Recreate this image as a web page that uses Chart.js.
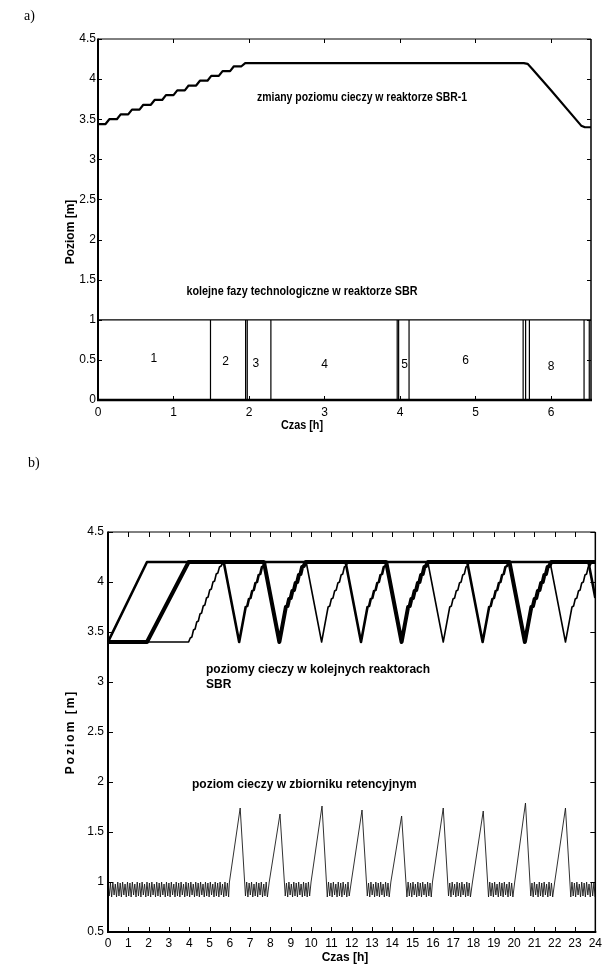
<!DOCTYPE html>
<html><head><meta charset="utf-8">
<script src="https://cdn.jsdelivr.net/npm/chart.js@4.4.1/dist/chart.umd.min.js"></script>
<style>
html,body{margin:0;padding:0;background:#fff;}
#wrap{position:relative;width:606px;height:967px;overflow:hidden;background:#fff;}
#ca{position:absolute;left:0;top:0;}
#cb{position:absolute;left:0;top:450px;}
</style></head>
<body><div id="wrap"><canvas id="ca" width="606" height="450"></canvas><canvas id="cb" width="606" height="517"></canvas></div>
<script>
// ===== DATA: chart a) =====
const timeA  = [0,0.1,0.15,0.25,0.3,0.4,0.45,0.55,0.6,0.7,0.75,0.85,0.9,1.0,1.05,1.15,1.2,1.3,1.35,1.45,1.5,1.6,1.65,1.75,1.8,1.9,1.95,5.64,5.69,5.75,6.0,6.4,6.45,6.53];
const levelA = [3.44,3.44,3.5,3.5,3.56,3.56,3.62,3.62,3.68,3.68,3.74,3.74,3.8,3.8,3.86,3.86,3.92,3.92,3.98,3.98,4.04,4.04,4.1,4.1,4.16,4.16,4.2,4.2,4.19,4.13,3.86,3.42,3.4,3.4];
const phaseBounds = [0,1.49,1.955,1.977,2.29,3.963,3.982,4.12,5.631,5.664,5.714,6.438,6.507];
const phaseNames  = ['1','2','3','4','5','6','8'];
const phaseNameX  = [0.74,1.69,2.09,3.0,4.06,4.87,6.0];
const phaseNameY  = [0.51,0.48,0.45,0.44,0.44,0.49,0.42];
const xTicksA = ['0','1','2','3','4','5','6'];
const yTicksA = ['0','0.5','1','1.5','2','2.5','3','3.5','4','4.5'];

// ===== DATA: chart b) =====
const reactor1 = [[0,3.4],[1.92,4.2],[5.7,4.2],[6.46,3.4],[6.78,3.75],[6.86,3.76],[6.94,3.83],[7.02,3.84],[7.1,3.91],[7.18,3.92],[7.26,3.99],[7.34,4.0],[7.42,4.07],[7.5,4.08],[7.58,4.15],[7.66,4.16],[7.76,4.2],
  [11.7,4.2],[12.46,3.4],[12.78,3.75],[12.86,3.76],[12.94,3.83],[13.02,3.84],[13.1,3.91],[13.18,3.92],[13.26,3.99],[13.34,4.0],[13.42,4.07],[13.5,4.08],[13.58,4.15],[13.66,4.16],[13.76,4.2],
  [17.69,4.2],[18.45,3.4],[18.77,3.75],[18.85,3.76],[18.93,3.83],[19.01,3.84],[19.09,3.91],[19.17,3.92],[19.25,3.99],[19.33,4.0],[19.41,4.07],[19.49,4.08],[19.57,4.15],[19.65,4.16],[19.75,4.2],
  [23.66,4.2],[24,3.84]];
const reactor2 = [[0,3.4],[1.92,3.4],[3.97,4.2],[7.68,4.2],[8.44,3.4],[8.76,3.75],[8.84,3.76],[8.92,3.83],[9.0,3.84],[9.08,3.91],[9.16,3.92],[9.24,3.99],[9.32,4.0],[9.4,4.07],[9.48,4.08],[9.56,4.15],[9.64,4.16],[9.74,4.2],
  [13.7,4.2],[14.46,3.4],[14.78,3.75],[14.86,3.76],[14.94,3.83],[15.02,3.84],[15.1,3.91],[15.18,3.92],[15.26,3.99],[15.34,4.0],[15.42,4.07],[15.5,4.08],[15.58,4.15],[15.66,4.16],[15.76,4.2],
  [19.77,4.2],[20.53,3.4],[20.85,3.75],[20.93,3.76],[21.01,3.83],[21.09,3.84],[21.17,3.91],[21.25,3.92],[21.33,3.99],[21.41,4.0],[21.49,4.07],[21.57,4.08],[21.65,4.15],[21.73,4.16],[21.83,4.2],[24,4.2]];
const reactor3 = [[0,3.4],[3.97,3.4],[4.05,3.44],[4.13,3.45],[4.21,3.52],[4.29,3.53],[4.37,3.6],[4.45,3.61],[4.53,3.68],[4.61,3.69],[4.69,3.76],[4.77,3.77],[4.85,3.84],[4.93,3.85],[5.01,3.92],[5.09,3.93],[5.17,4.0],[5.25,4.01],[5.33,4.08],[5.41,4.09],[5.49,4.15],[5.57,4.16],[5.65,4.19],[5.78,4.2],
  [9.76,4.2],[10.52,3.4],[10.84,3.75],[10.92,3.76],[11.0,3.83],[11.08,3.84],[11.16,3.91],[11.24,3.92],[11.32,3.99],[11.4,4.0],[11.48,4.07],[11.56,4.08],[11.64,4.15],[11.72,4.16],[11.82,4.2],
  [15.75,4.2],[16.51,3.4],[16.83,3.75],[16.91,3.76],[16.99,3.83],[17.07,3.84],[17.15,3.91],[17.23,3.92],[17.31,3.99],[17.39,4.0],[17.47,4.07],[17.55,4.08],[17.63,4.15],[17.71,4.16],[17.81,4.2],
  [21.77,4.2],[22.53,3.4],[22.85,3.75],[22.93,3.76],[23.01,3.83],[23.09,3.84],[23.17,3.91],[23.25,3.92],[23.33,3.99],[23.41,4.0],[23.49,4.07],[23.57,4.08],[23.65,4.15],[23.73,4.16],[23.83,4.2],[24,4.2]];
const tank = [
  [0,1.0],[0.06,0.86],[0.12,0.99],[0.18,0.85],[0.24,1.0],[0.3,0.87],[0.36,0.98],[0.42,0.85],[0.48,1.0],[0.54,0.86],
  [0.6,0.99],[0.66,0.85],[0.72,1.0],[0.78,0.87],[0.84,0.98],[0.9,0.85],[0.96,1.0],[1.02,0.86],[1.08,0.99],[1.14,0.85],
  [1.2,1.0],[1.26,0.87],[1.32,0.98],[1.38,0.85],[1.44,1.0],[1.5,0.86],[1.56,0.99],[1.62,0.85],[1.68,1.0],[1.74,0.87],
  [1.8,0.98],[1.86,0.85],[1.92,1.0],[1.98,0.86],[2.04,0.99],[2.1,0.85],[2.16,1.0],[2.22,0.87],[2.28,0.98],[2.34,0.85],
  [2.4,1.0],[2.46,0.86],[2.52,0.99],[2.58,0.85],[2.64,1.0],[2.7,0.87],[2.76,0.98],[2.82,0.85],[2.88,1.0],[2.94,0.86],
  [3.0,0.99],[3.06,0.85],[3.12,1.0],[3.18,0.87],[3.24,0.98],[3.3,0.85],[3.36,1.0],[3.42,0.86],[3.48,0.99],[3.54,0.85],
  [3.6,1.0],[3.66,0.87],[3.72,0.98],[3.78,0.85],[3.84,1.0],[3.9,0.86],[3.96,0.99],[4.02,0.85],[4.08,1.0],[4.14,0.87],
  [4.2,0.98],[4.26,0.85],[4.32,1.0],[4.38,0.86],[4.44,0.99],[4.5,0.85],[4.56,1.0],[4.62,0.87],[4.68,0.98],[4.74,0.85],
  [4.8,1.0],[4.86,0.86],[4.92,0.99],[4.98,0.85],[5.04,1.0],[5.1,0.87],[5.16,0.98],[5.22,0.85],[5.28,1.0],[5.34,0.86],
  [5.4,0.99],[5.46,0.85],[5.52,1.0],[5.58,0.87],[5.64,0.98],[5.7,0.85],[5.76,1.0],[5.82,0.86],[5.88,0.99],[5.94,0.85],
  [5.98,1.0],[6.51,1.74],[6.77,0.86],
  [6.83,1.0],[6.89,0.85],[6.95,0.99],[7.01,0.87],[7.07,1.0],[7.13,0.85],[7.19,0.98],[7.25,0.86],[7.31,1.0],[7.37,0.85],[7.43,0.99],[7.49,0.87],[7.55,1.0],[7.61,0.85],[7.67,0.98],[7.73,0.86],[7.79,1.0],[7.85,0.85],
  [7.94,1.0],[8.47,1.68],[8.73,0.86],
  [8.79,0.99],[8.85,0.85],[8.91,1.0],[8.97,0.87],[9.03,0.98],[9.09,0.85],[9.15,1.0],[9.21,0.86],[9.27,0.99],[9.33,0.85],[9.39,1.0],[9.45,0.87],[9.51,0.98],[9.57,0.85],[9.63,1.0],[9.69,0.86],[9.75,0.99],[9.81,0.85],[9.87,1.0],[9.93,0.86],
  [10.0,1.0],[10.54,1.76],[10.8,0.85],
  [10.86,1.0],[10.92,0.86],[10.98,0.99],[11.04,0.85],[11.1,1.0],[11.16,0.87],[11.22,0.98],[11.28,0.85],[11.34,1.0],[11.4,0.86],[11.46,0.99],[11.52,0.85],[11.58,1.0],[11.64,0.87],[11.7,0.98],[11.76,0.85],[11.82,1.0],[11.88,0.86],
  [11.98,1.0],[12.51,1.72],[12.77,0.86],
  [12.83,0.99],[12.89,0.85],[12.95,1.0],[13.01,0.87],[13.07,0.98],[13.13,0.85],[13.19,1.0],[13.25,0.86],[13.31,0.99],[13.37,0.85],[13.43,1.0],[13.49,0.87],[13.55,0.98],[13.61,0.85],[13.67,1.0],[13.73,0.86],[13.79,0.99],[13.85,0.85],
  [13.93,1.0],[14.46,1.66],[14.72,0.85],
  [14.78,1.0],[14.84,0.86],[14.9,0.99],[14.96,0.85],[15.02,1.0],[15.08,0.87],[15.14,0.98],[15.2,0.85],[15.26,1.0],[15.32,0.86],[15.38,0.99],[15.44,0.85],[15.5,1.0],[15.56,0.87],[15.62,0.98],[15.68,0.85],[15.74,1.0],[15.8,0.86],[15.86,0.99],[15.92,0.85],
  [15.98,1.0],[16.51,1.74],[16.77,0.86],
  [16.83,0.99],[16.89,0.85],[16.95,1.0],[17.01,0.87],[17.07,0.98],[17.13,0.85],[17.19,1.0],[17.25,0.86],[17.31,0.99],[17.37,0.85],[17.43,1.0],[17.49,0.87],[17.55,0.98],[17.61,0.85],[17.67,1.0],[17.73,0.86],[17.79,0.99],[17.85,0.85],
  [17.95,1.0],[18.48,1.71],[18.74,0.85],
  [18.8,1.0],[18.86,0.86],[18.92,0.99],[18.98,0.85],[19.04,1.0],[19.1,0.87],[19.16,0.98],[19.22,0.85],[19.28,1.0],[19.34,0.86],[19.4,0.99],[19.46,0.85],[19.52,1.0],[19.58,0.87],[19.64,0.98],[19.7,0.85],[19.76,1.0],[19.82,0.86],[19.88,0.99],[19.94,0.85],
  [20.03,1.0],[20.56,1.79],[20.82,0.86],
  [20.88,0.99],[20.94,0.85],[21.0,1.0],[21.06,0.87],[21.12,0.98],[21.18,0.85],[21.24,1.0],[21.3,0.86],[21.36,0.99],[21.42,0.85],[21.48,1.0],[21.54,0.87],[21.6,0.98],[21.66,0.85],[21.72,1.0],[21.78,0.86],[21.84,0.99],[21.9,0.85],
  [22.0,1.0],[22.53,1.74],[22.79,0.85],
  [22.85,1.0],[22.91,0.86],[22.97,0.99],[23.03,0.85],[23.09,1.0],[23.15,0.87],[23.21,0.98],[23.27,0.85],[23.33,1.0],[23.39,0.86],[23.45,0.99],[23.51,0.85],[23.57,1.0],[23.63,0.87],[23.69,0.98],[23.75,0.85],[23.81,1.0],[23.87,0.86],[23.93,0.99],[23.99,0.85]];
const xTicksB = ['0','1','2','3','4','5','6','7','8','9','10','11','12','13','14','15','16','17','18','19','20','21','22','23','24'];
const yTicksB = ['0.5','1','1.5','2','2.5','3','3.5','4','4.5'];

// ===== helpers =====
const SANS = "'Liberation Sans', Arial, Helvetica, sans-serif";
const SERIF = "'Liberation Serif', 'Times New Roman', serif";
const toXY = (ts, ys) => ts.map((t, i) => ({x: t, y: ys[i]}));
const pairs = arr => arr.map(p => ({x: p[0], y: p[1]}));

function axis(min, max, step, labels, isX, pad, fit) {
  return {
    type: 'linear', min: min, max: max,
    grid: {display: false, drawTicks: false}, border: {display: false},
    ticks: {
      stepSize: step, includeBounds: false, autoSkip: false, maxRotation: 0, minRotation: 0,
      padding: pad, color: '#000', font: {family: SANS, size: 12},
      callback: v => { const i = Math.round((v - min) / step); return labels[i] !== undefined ? labels[i] : ''; }
    },
    afterFit: s => { if (isX) s.height = fit; else s.width = fit; }
  };
}

function decor(opt) {
  return {
    id: opt.id,
    afterDraw(chart) {
      const ctx = chart.ctx, a = chart.chartArea, xs = chart.scales.x, ys = chart.scales.y;
      ctx.save();
      ctx.strokeStyle = '#000';
      ctx.lineWidth = 1;
      const L = opt.tick;
      const seg = (x1, y1, x2, y2) => { ctx.beginPath(); ctx.moveTo(x1, y1); ctx.lineTo(x2, y2); ctx.stroke(); };
      ys.ticks.forEach(t => {
        const y = Math.round(ys.getPixelForValue(t.value)) + 0.5;
        seg(a.left, y, a.left + L, y); seg(a.right - L, y, a.right, y);
      });
      xs.ticks.forEach(t => {
        const x = Math.round(xs.getPixelForValue(t.value)) + 0.5;
        seg(x, a.top, x, a.top + L); seg(x, a.bottom - L, x, a.bottom);
      });
      const w = opt.border;
      ctx.lineWidth = w.top; seg(a.left, a.top, a.right, a.top);
      ctx.lineWidth = w.right; seg(a.right, a.top, a.right, a.bottom);
      ctx.lineWidth = w.bottom; seg(a.left - 1, a.bottom, a.right + 1, a.bottom);
      ctx.lineWidth = w.left; seg(a.left, a.top - 0.5, a.left, a.bottom + 1);
      (opt.dataTexts || []).forEach(d => {
        ctx.font = d.font; ctx.fillStyle = '#000'; ctx.textAlign = 'center'; ctx.textBaseline = 'middle';
        ctx.fillText(d.t, xs.getPixelForValue(d.x), ys.getPixelForValue(d.y));
      });
      (opt.texts || []).forEach(d => {
        ctx.save();
        ctx.font = d.font; ctx.fillStyle = '#000';
        ctx.textAlign = d.align || 'center'; ctx.textBaseline = 'middle';
        if (d.ls) { try { ctx.letterSpacing = d.ls; } catch (e) {} }
        ctx.translate(d.x, d.y);
        if (d.rot) ctx.rotate(d.rot);
        if (d.maxW) ctx.fillText(d.t, 0, 0, d.maxW); else ctx.fillText(d.t, 0, 0);
        ctx.restore();
      });
      ctx.restore();
    }
  };
}

const lineDS = (data, w, color) => ({
  data: data, showLine: true, borderColor: color || '#000', borderWidth: w, pointRadius: 0,
  tension: 0, fill: false, borderJoinStyle: 'round', borderCapStyle: 'butt'
});

// ===== chart a) =====
const xMaxA = 6.53;
const phaseOutline = [];
phaseBounds.forEach((b, i) => {
  if (i === 0) phaseOutline.push({x: b, y: 0}, {x: b, y: 1});
  else phaseOutline.push({x: b, y: 1}, {x: b, y: 0}, {x: b, y: 1});
});
phaseOutline.push({x: xMaxA, y: 1});

new Chart(document.getElementById('ca'), {
  type: 'scatter',
  data: {datasets: [lineDS(phaseOutline, 1.2), lineDS(toXY(timeA, levelA), 2.2)]},
  options: {
    responsive: false, animation: false, events: [], devicePixelRatio: 1,
    layout: {autoPadding: false, padding: {left: 0, top: 39, right: 15, bottom: 0}},
    plugins: {legend: {display: false}, tooltip: {enabled: false}},
    scales: {
      x: axis(0, xMaxA, 1, xTicksA, true, 5, 50),
      y: axis(0, 4.5, 0.5, yTicksA, false, 2, 98)
    }
  },
  plugins: [decor({
    id: 'decA', tick: 4,
    border: {top: 1, right: 1.5, bottom: 2.5, left: 2},
    dataTexts: phaseNames.map((n, i) => ({t: n, x: phaseNameX[i], y: phaseNameY[i], font: '12px ' + SANS})),
    texts: [
      {t: 'a)', x: 24, y: 16, font: '14px ' + SERIF, align: 'left'},
      {t: 'zmiany poziomu cieczy w reaktorze SBR-1', x: 362, y: 98, font: 'bold 12px ' + SANS, maxW: 210},
      {t: 'kolejne fazy technologiczne w reaktorze SBR', x: 302, y: 292, font: 'bold 12px ' + SANS, maxW: 231},
      {t: 'Poziom [m]', x: 71, y: 232, font: 'bold 12px ' + SANS, rot: -Math.PI / 2, maxW: 67},
      {t: 'Czas [h]', x: 302, y: 426, font: 'bold 12px ' + SANS, maxW: 42}
    ]
  })]
});

// ===== chart b) =====
new Chart(document.getElementById('cb'), {
  type: 'scatter',
  data: {datasets: [
    lineDS(pairs(tank), 0.9, '#1a1a1a'),
    lineDS(pairs(reactor3), 1.6),
    lineDS(pairs(reactor1), 2.6),
    lineDS(pairs(reactor2), 4)
  ]},
  options: {
    responsive: false, animation: false, events: [], devicePixelRatio: 1,
    layout: {autoPadding: false, padding: {left: 0, top: 82, right: 10, bottom: 0}},
    plugins: {legend: {display: false}, tooltip: {enabled: false}},
    scales: {
      x: axis(0, 24, 1, xTicksB, true, 4, 35),
      y: axis(0.5, 4.5, 0.5, yTicksB, false, 4, 108)
    }
  },
  plugins: [decor({
    id: 'decB', tick: 5,
    border: {top: 1, right: 1.5, bottom: 2, left: 2},
    texts: [
      {t: 'b)', x: 28, y: 13, font: '14px ' + SERIF, align: 'left'},
      {t: 'poziomy cieczy w kolejnych reaktorach', x: 206, y: 220, font: 'bold 12px ' + SANS, align: 'left'},
      {t: 'SBR', x: 206, y: 235, font: 'bold 12px ' + SANS, align: 'left'},
      {t: 'poziom cieczy w zbiorniku retencyjnym', x: 192, y: 335, font: 'bold 12px ' + SANS, align: 'left'},
      {t: 'Poziom [m]', x: 71, y: 282, font: 'bold 12px ' + SANS, rot: -Math.PI / 2, ls: '2px'},
      {t: 'Czas [h]', x: 345, y: 508, font: 'bold 12px ' + SANS}
    ]
  })]
});
</script>
</body></html>
